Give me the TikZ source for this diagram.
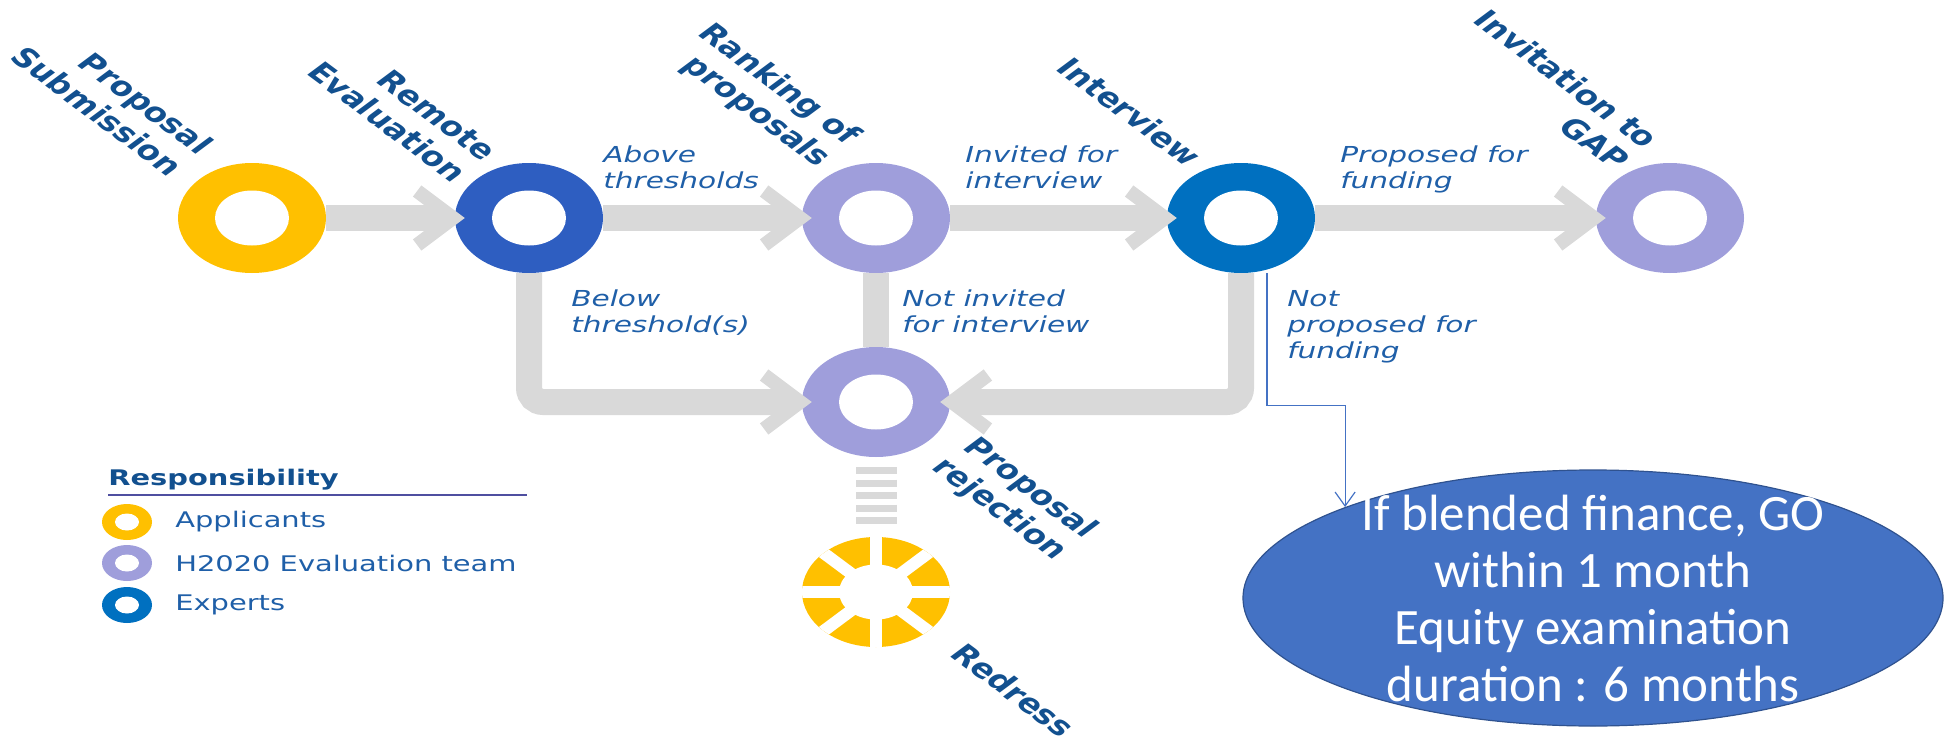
\documentclass[tikz,border=0pt]{standalone}
\usepackage{fontspec}
\setmainfont{DejaVu Sans}
\newfontfamily\calfont{Carlito}
\usetikzlibrary{arrows.meta,shapes.geometric,calc}
\definecolor{ringyellow}{HTML}{FFC000}
\definecolor{ringlav}{HTML}{9F9EDB}
\definecolor{ringroyal}{HTML}{2E5EC1}
\definecolor{ringblue}{HTML}{0070C0}
\definecolor{flowgray}{HTML}{D9D9D9}
\definecolor{titleblue}{HTML}{12508F}
\definecolor{labelblue}{HTML}{1F5FA8}
\definecolor{rulepurple}{HTML}{4F4FA0}
\definecolor{notefill}{HTML}{4472C4}
\definecolor{noteline}{HTML}{2F528F}

\begin{document}
\begin{tikzpicture}[x=1pt,y=1pt]
\tikzset{ring/.style={ellipse,inner sep=0pt,fill=#1},
stage/.style={ring=#1,minimum width=148pt,minimum height=110pt,
  path picture={\fill[white] (path picture bounding box.center) ellipse (37pt and 27.5pt);}},
redressring/.style={ring=ringyellow,minimum width=148pt,minimum height=110pt,
  path picture={\fill[white] (path picture bounding box.center) ellipse (37pt and 27.5pt);
    \foreach \a in {0,45,90,135}
      \draw[white,line width=12pt] ($(path picture bounding box.center)+({134.5*cos(\a)},{100*sin(\a)})$)
        -- ($(path picture bounding box.center)-({134.5*cos(\a)},{100*sin(\a)})$);}},
keyring/.style={ring=#1,minimum width=50pt,minimum height=36pt,
  path picture={\fill[white] (path picture bounding box.center) ellipse (12pt and 8.5pt);}},
flow/.style={draw=flowgray,line width=26pt},
flowtip/.style={-{Straight Barb[length=36pt,width=54pt,line width=14pt]},shorten >=-10pt},
redresslink/.style={draw=flowgray,line width=41pt,dash pattern=on 7pt off 5.5pt,shorten <=10pt,shorten >=13pt},
stagetitle/.style={font=\bfseries\fontsize{26}{31}\selectfont,text=titleblue,align=right,inner sep=0pt,xscale=1.345,rotate=-45},
choice/.style={font=\itshape\fontsize{22}{26}\selectfont,text=labelblue,align=left,inner sep=0pt,anchor=north west,xscale=1.345},
keyhead/.style={font=\bfseries\fontsize{21.5}{25}\selectfont,text=titleblue,inner sep=0pt,xscale=1.345},
keytext/.style={font=\fontsize{21.5}{25}\selectfont,text=labelblue,anchor=west,inner sep=0pt,xscale=1.345},
outcome/.style={ellipse,fill=notefill,draw=noteline,line width=1.2pt,minimum width=700pt,minimum height=256pt,
  inner xsep=0pt,inner ysep=-30pt,text=white,align=center,font=\calfont\fontsize{51}{57}\selectfont},
note/.style={draw=notefill,line width=1.2pt,-{Straight Barb[length=14pt,width=20pt]}}}
\useasboundingbox (0,0) rectangle (1946,-741);

\node[stage=ringyellow] (propsub) at (252,-218) {};
\node[stage=ringroyal] (remeval) at (529,-218) {};
\node[stage=ringlav] (ranking) at (876,-218) {};
\node[stage=ringblue] (interview) at (1241,-218) {};
\node[stage=ringlav] (gapinv) at (1670,-218) {};
\node[stage=ringlav] (rejection) at (876,-402) {};
\node[redressring] (redress) at (876,-592) {};

\draw[flow,flowtip] (propsub.east) -- (remeval.west);
\draw[flow,flowtip] (remeval.east) -- (ranking.west);
\draw[flow,flowtip] (ranking.east) -- (interview.west);
\draw[flow,flowtip] (interview.east) -- (gapinv.west);
\draw[flow,flowtip,rounded corners=14pt] (remeval.south) |- (rejection.west);
\draw[flow] (ranking.south) -- (rejection.north);
\draw[flow,flowtip,rounded corners=14pt] (interview.south) |- (rejection.east);
\draw[redresslink] (rejection.south) -- (redress.north);

\node[stagetitle,anchor=south east] (t-propsub) at (168,-178) {Proposal\\Submission};
\node[stagetitle,anchor=south east] (t-remeval) at (452,-184) {Remote\\Evaluation};
\node[stagetitle,anchor=south east] (t-ranking) at (812,-172) {Ranking of\\proposals};
\node[stagetitle,anchor=south east] (t-interview) at (1186,-168) {Interview};
\node[stagetitle,anchor=south east] (t-gapinv) at (1614,-172) {Invitation to\\GAP};
\node[stagetitle,anchor=south east] (t-rejection) at (1049,-565) {Proposal\\rejection};
\node[stagetitle,anchor=south east] (t-redress) at (1060,-739) {Redress};

\node[choice] (above) at (603,-146) {Above\\thresholds};
\node[choice] (invited) at (965,-146) {Invited for\\interview};
\node[choice] (proposed) at (1340,-146) {Proposed for\\funding};
\node[choice] (below) at (571,-290) {Below\\threshold(s)};
\node[choice] (notinvited) at (902,-290) {Not invited\\for interview};
\node[choice] (notproposed) at (1287,-290) {Not\\proposed for\\funding};

\node[keyhead,anchor=base west] (resp) at (108,-485) {Responsibility};
\draw[rulepurple,line width=1.5pt] ([yshift=-10pt]resp.base west) -- ++(419,0);
\node[keyring=ringyellow] (k-app) at (127,-522) {};
\node[keytext] (app) at (175,-522) {Applicants};
\node[keyring=ringlav] (k-team) at (127,-563) {};
\node[keytext] (team) at (175,-563) {H2020 Evaluation team};
\node[keyring=ringblue] (k-exp) at (127,-605) {};
\node[keytext] (exp) at (175,-605) {Experts};

\node[outcome] (gofund) at (1593,-598) {If blended finance, GO\\within 1 month\\Equity examination\\duration : 6 months};
\draw[note] ([xshift=26pt]interview.south) -- ++(0,-132) -| (gofund.north west);
\end{tikzpicture}
\end{document}
